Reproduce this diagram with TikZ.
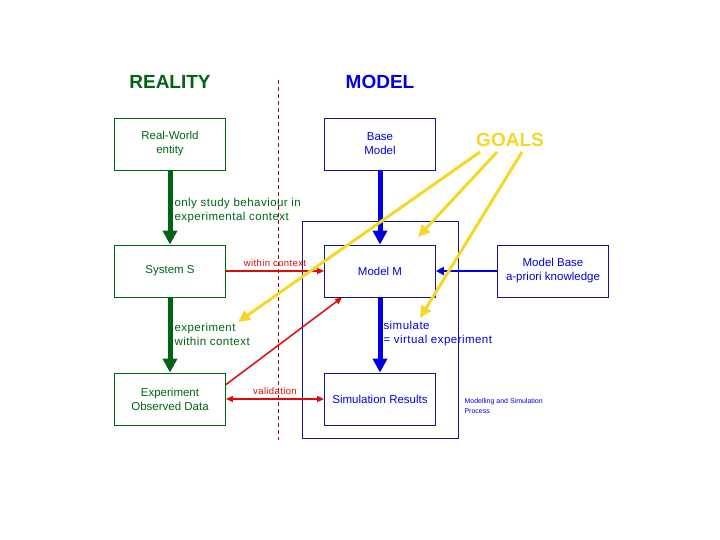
\documentclass[tikz,border=0pt]{standalone}
\usepackage{fontspec}
\setmainfont{Liberation Sans}
\usetikzlibrary{arrows.meta,positioning}
\definecolor{realgreen}{RGB}{0,100,20}
\definecolor{modelblue}{RGB}{0,0,225}
\definecolor{navyline}{RGB}{20,20,140}
\definecolor{linkred}{RGB}{225,10,10}
\definecolor{goalyellow}{RGB}{245,215,40}
\begin{document}
\begin{tikzpicture}[
        x=1pt, y=-1pt,
        box/.style={draw, thick, minimum width=111pt, minimum height=52pt, align=center,
            font=\fontsize{11.5}{14}\selectfont},
        greenbox/.style={box, draw=realgreen, text=realgreen},
        bluebox/.style={box, draw=navyline, text=modelblue},
        title/.style={font=\fontsize{19}{22}\selectfont\bfseries},
        greenlabel/.style={align=left, text=realgreen, font=\fontsize{11.5}{14}\selectfont\addfontfeatures{LetterSpace=4}},
        bluelabel/.style={align=left, text=modelblue, font=\fontsize{11.5}{14}\selectfont\addfontfeatures{LetterSpace=4}},
        redlabel/.style={text=linkred, font=\fontsize{9.5}{11}\selectfont\addfontfeatures{LetterSpace=4}},
        greenarrow/.style={draw=realgreen, line width=5pt, -{Triangle[width=14pt,length=14pt]}},
        bluearrow/.style={draw=modelblue, line width=5pt, -{Triangle[width=14pt,length=14pt]}},
        thinblue/.style={draw=modelblue, line width=2pt, -{Triangle[width=8pt,length=8pt]}},
        redarrow/.style={draw=linkred, line width=1.5pt, -{Triangle[width=6pt,length=7pt]}},
        goalarrow/.style={draw=goalyellow, line width=3pt, -{Triangle[width=11pt,length=12pt]}},
    ]
    \useasboundingbox (0,0) rectangle (720,540);
    % headings
    \node[title, text=realgreen] (reality) at (170,82) {REALITY};
    \node[title, text=modelblue] (model) at (380,82) {MODEL};
    \node[title, text=goalyellow] (goals) at (510,140) {GOALS};
    % boundary between reality and model
    \draw[draw=linkred!70!black, thin, dash pattern=on 4pt off 3pt] (278,80) -- (278,440);
    % process frame
    \draw[navyline, thick] (302,221) rectangle (458,438);
    \node[anchor=west, align=left, text=modelblue, font=\fontsize{7}{10}\selectfont] (process) at (461,406)
        {Modelling and Simulation\\Process};
    % boxes
    \node[greenbox](world) at (170,144){Real-World\\entity};
    \node[greenbox](system) at (170,271){System S};
    \node[greenbox](data) at (170,399){Experiment\\Observed Data};
    \node[bluebox](base) at (380,144){Base\\Model};
    \node[bluebox](modelm) at (380,271){Model M};
    \node[bluebox](simres) at (380,399){Simulation Results};
    \node[bluebox](modelbase) at (553,271){Model Base\\a-priori knowledge};
    % reality side
    \draw[greenarrow] (world) -- (system);
    \draw[greenarrow] (system) -- (data);
    \node[greenlabel, anchor=west] (study) at (171,211) {only study behaviour in\\experimental context};
    \node[greenlabel, anchor=west] (experiment) at (171,334) {experiment\\within context};
    % model side
    \draw[bluearrow] (base) -- (modelm);
    \draw[bluearrow] (modelm) -- (simres);
    \draw[thinblue] (modelbase) -- (modelm);
    \node[bluelabel, anchor=west] (simulate) at (380,334) {simulate\\= virtual experiment};
    % links between reality and model
    \draw[redarrow] (system) -- node[redlabel, above=0pt]{within context} (modelm);
    \draw[redarrow] ([yshift=-12pt]data.north east) -- ([xshift=18pt]modelm.south west);
    \draw[redarrow, {Triangle[width=6pt,length=7pt]}-{Triangle[width=6pt,length=7pt]}]
        (data) -- node[redlabel, above=0pt]{validation} (simres);
    % goals
    \coordinate (goalexp) at (238,322);
    \coordinate (goalframe) at (418,237);
    \coordinate (goalsim) at (420,318);
    \draw[goalarrow] ([xshift=-30pt,yshift=-12pt]goals.center) -- (goalexp);
    \draw[goalarrow] ([xshift=-13pt,yshift=-12pt]goals.center) -- (goalframe);
    \draw[goalarrow] ([xshift=12pt,yshift=-12pt]goals.center) -- (goalsim);
\end{tikzpicture}
\end{document}
